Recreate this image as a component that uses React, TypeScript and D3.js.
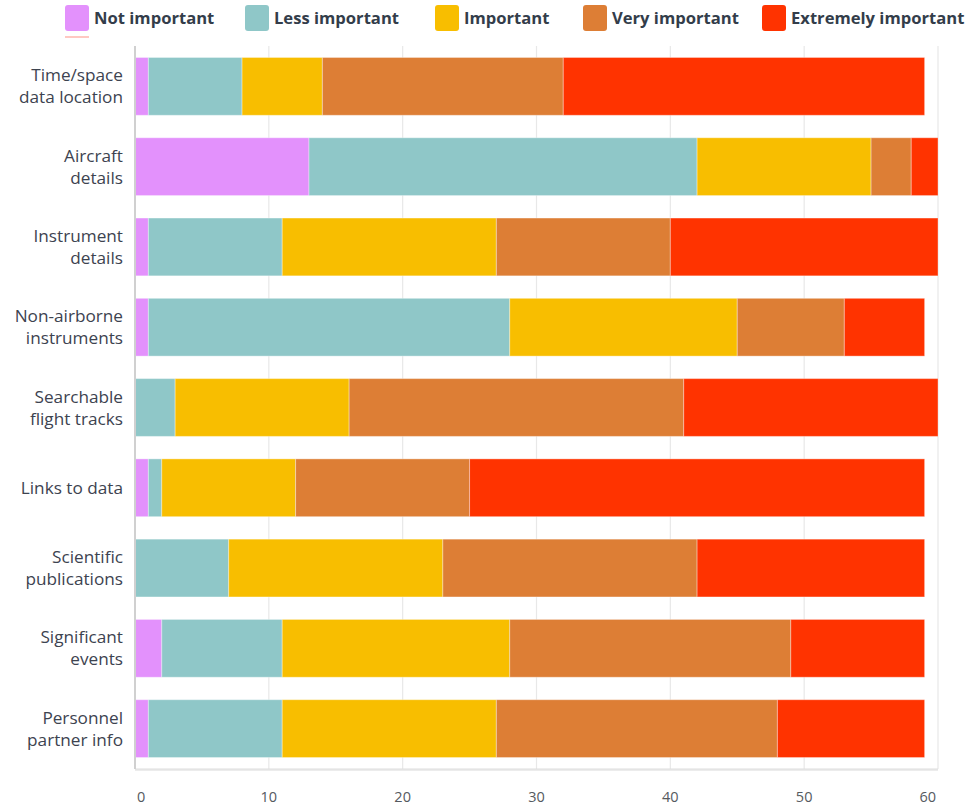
import React from "react";
import * as d3 from "d3";

const categories = [
  "Time/space data location",
  "Aircraft details",
  "Instrument details",
  "Non-airborne instruments",
  "Searchable flight tracks",
  "Links to data",
  "Scientific publications",
  "Significant events",
  "Personnel partner info",
];
const categoryLines = [
  ["Time/space", "data location"],
  ["Aircraft", "details"],
  ["Instrument", "details"],
  ["Non-airborne", "instruments"],
  ["Searchable", "flight tracks"],
  ["Links to data"],
  ["Scientific", "publications"],
  ["Significant", "events"],
  ["Personnel", "partner info"],
];
const seriesNames = ["Not important", "Less important", "Important", "Very important", "Extremely important"];
const notImportant = [1, 13, 1, 1, 0, 1, 0, 2, 1];
const lessImportant = [7, 29, 10, 27, 3, 1, 7, 9, 10];
const important = [6, 13, 16, 17, 13, 10, 16, 17, 16];
const veryImportant = [18, 3, 13, 8, 25, 13, 19, 21, 21];
const extremelyImportant = [27, 2, 20, 6, 19, 34, 17, 10, 11];
const xTicks = [0, 10, 20, 30, 40, 50, 60];
const colors = ["#e391fc", "#8fc7c8", "#f8be00", "#dd7e35", "#ff3300"];

const W = 976;
const H = 808;
const FONT = "'Open Sans', sans-serif";

export default function App() {
  const seriesValues = [notImportant, lessImportant, important, veryImportant, extremelyImportant];
  const table = categories.map((c, i) => {
    const row: any = { category: c };
    seriesNames.forEach((s, j) => (row[s] = seriesValues[j][i]));
    return row;
  });
  const stacked = d3.stack<any>().keys(seriesNames)(table);

  const x = d3.scaleLinear().domain([0, 60]).range([135, 938]);
  const y = d3.scaleBand().domain(categories).range([46, 769]).paddingInner(0.28).paddingOuter(0.143);
  const top = 46;
  const bottom = 769;

  const legendX = [65, 245, 435, 583, 762];

  return (
    <svg width={W} height={H} style={{ position: "absolute", left: 0, top: 0, background: "#fff" }}>
      {/* gridlines */}
      {xTicks.map((t) =>
        t === 0 ? null : (
          <line key={"g" + t} x1={x(t)} x2={x(t)} y1={top} y2={bottom} stroke="#e8e8e8" strokeWidth={1.2} />
        )
      )}
      {/* bottom axis line */}
      <line x1={x(0)} x2={x(60)} y1={bottom + 1} y2={bottom + 1} stroke="#ececec" strokeWidth={2} />
      <line x1={x(0)} x2={x(60)} y1={bottom} y2={bottom} stroke="#dcdcdc" strokeWidth={1} />
      {/* bars */}
      {stacked.map((s, j) => (
        <g key={s.key}>
          {s.map((d, i) =>
            d[1] - d[0] > 0 ? (
              <rect
                key={i}
                x={x(d[0])}
                y={y(categories[i])!}
                width={x(d[1]) - x(d[0])}
                height={y.bandwidth()}
                fill={colors[j]}
                stroke="#ffffff"
                strokeOpacity={0.35}
                strokeWidth={1}
              />
            ) : null
          )}
        </g>
      ))}
      {/* left axis line */}
      <line x1={x(0)} x2={x(0)} y1={top} y2={bottom} stroke="#d0d0d0" strokeWidth={2} />
      {/* y labels */}
      {categoryLines.map((lines, i) => {
        const cy = y(categories[i])! + y.bandwidth() / 2;
        const lh = 22;
        const start = cy - ((lines.length - 1) * lh) / 2 + 6;
        return (
          <text key={i} textAnchor="end" fontFamily={FONT} fontSize={17.2} fill="#3d4350">
            {lines.map((l, k) => (
              <tspan key={k} x={123} y={start + k * lh}>
                {l}
              </tspan>
            ))}
          </text>
        );
      })}
      {/* x tick labels */}
      {xTicks.map((t, i) => (
        <text
          key={"t" + t}
          x={i === 0 ? x(t) + 2 : i === xTicks.length - 1 ? x(t) - 2 : x(t)}
          y={802}
          textAnchor={i === 0 ? "start" : i === xTicks.length - 1 ? "end" : "middle"}
          fontFamily={FONT}
          fontSize={14.5}
          fill="#555a60"
        >
          {t}
        </text>
      ))}
      {/* legend */}
      {seriesNames.map((s, j) => (
        <g key={"l" + s}>
          <rect x={legendX[j]} y={5} width={24} height={26} rx={3} fill={colors[j]} />
          <text x={legendX[j] + 29} y={24} fontFamily={FONT} fontWeight={700} fontSize={16.6} fill="#333d4a">
            {s}
          </text>
        </g>
      ))}
      <rect x={65} y={36} width={24} height={2} fill="#ffb0a8" opacity={0.7} />
    </svg>
  );
}
